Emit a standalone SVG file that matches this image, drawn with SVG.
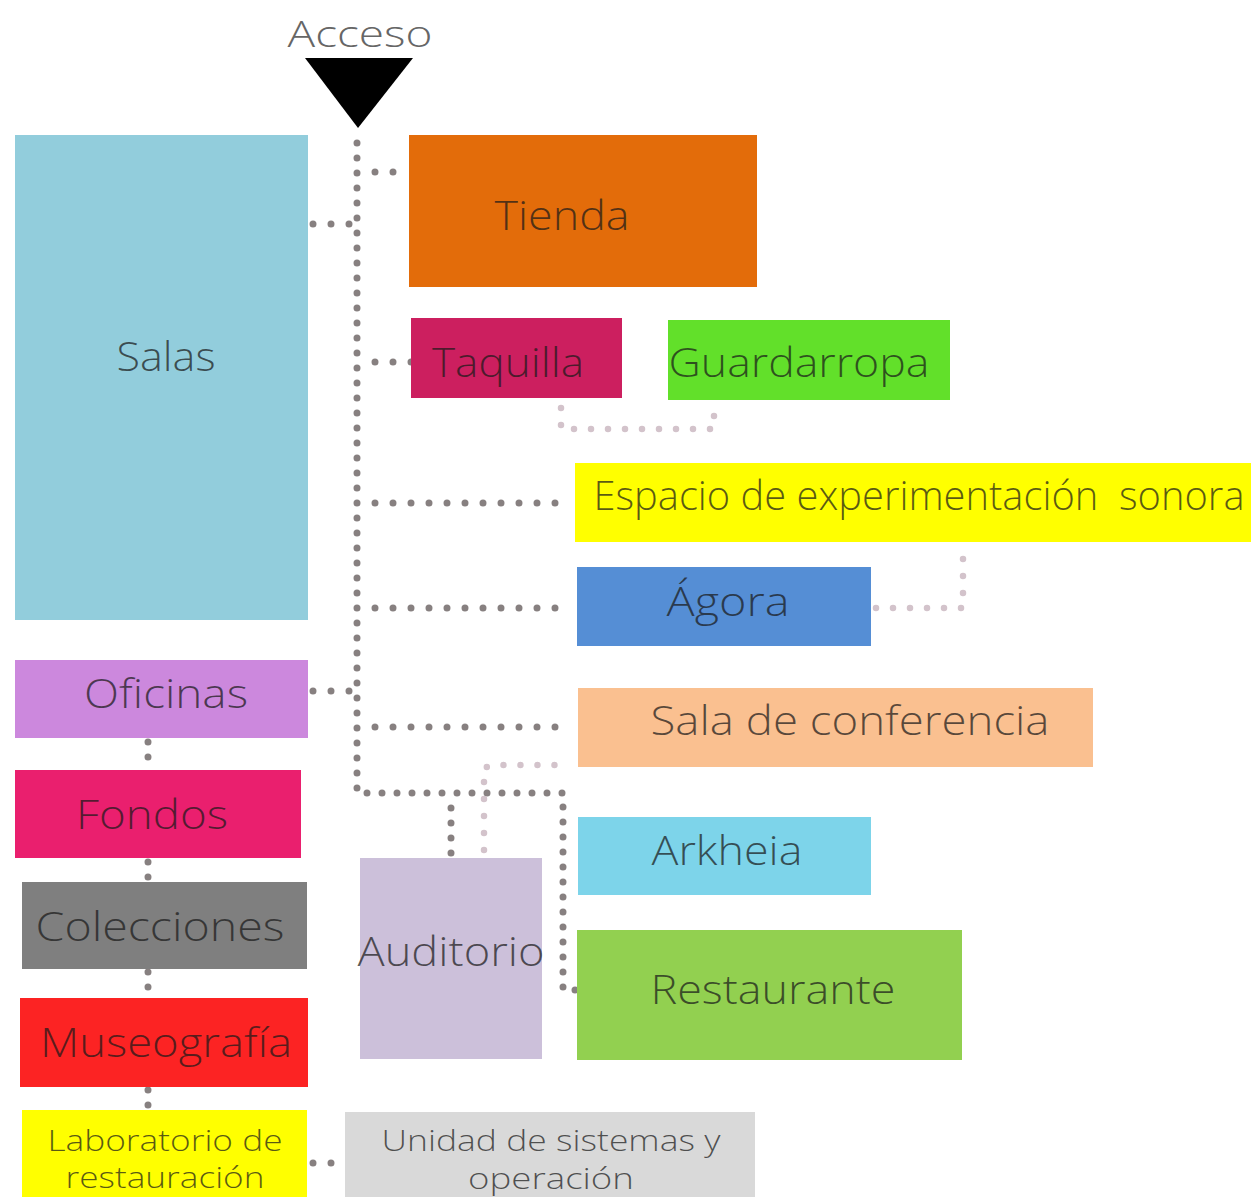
<svg xmlns="http://www.w3.org/2000/svg" width="1253" height="1197" viewBox="0 0 1253 1197">
<style>
.lbl{font-family:"Open Sans","Liberation Sans",sans-serif;font-weight:300;font-size:40px;fill:#1a1a1a;fill-opacity:0.72}
.sm{font-size:30px}
.d{fill:none;stroke:#878080;stroke-width:7;stroke-linecap:round;stroke-dasharray:0 15}
.dh{fill:none;stroke:#878080;stroke-width:7;stroke-linecap:round;stroke-dasharray:0 18}
.l{fill:none;stroke:#d3c3cb;stroke-width:6.5;stroke-linecap:round;stroke-dasharray:0 17}
</style>
<rect width="1253" height="1197" fill="#ffffff"/>
<g id="acceso">
<text x="360" y="47" text-anchor="middle" font-family="'Open Sans','Liberation Sans',sans-serif" font-weight="300" font-size="36" fill="#666" textLength="145" lengthAdjust="spacingAndGlyphs">Acceso</text>
<polygon points="305,58 413,58 358,128" fill="#000"/>
</g>
<g id="connectors">
<path class="d" d="M357 143 V793 H563 V990"/>
<path class="dh" d="M575 990 H563"/>
<path class="dh" d="M393 172 H357"/>
<path class="dh" d="M313 224 H357"/>
<path class="dh" d="M411 362 H357"/>
<path class="dh" d="M555 503 H357"/>
<path class="dh" d="M555 608 H357"/>
<path class="dh" d="M313 691 H357"/>
<path class="dh" d="M555 727 H357"/>
<path class="d" d="M451 853 V793"/>
<path class="l" d="M561 408 V429 H714 V408"/>
<path class="l" d="M876 608 H963 V548"/>
<path class="l" d="M484 850 V768 L492 765 H563"/>
<path class="d" d="M148 742 V768"/>
<path class="d" d="M148 862 V880"/>
<path class="d" d="M148 972 V996"/>
<path class="d" d="M148 1090 V1108"/>
<path class="dh" d="M313 1163 H343"/>
</g>
<g id="salas"><rect x="15" y="135" width="293" height="485" fill="#92cddc"/><text class="lbl" x="166" y="371" text-anchor="middle" textLength="99" lengthAdjust="spacingAndGlyphs">Salas</text></g>
<g id="tienda"><rect x="409" y="135" width="348" height="152" fill="#e36c0a"/><text class="lbl" x="562" y="230" text-anchor="middle" textLength="135" lengthAdjust="spacingAndGlyphs">Tienda</text></g>
<g id="taquilla"><rect x="411" y="318" width="211" height="80" fill="#cc1f5f"/><text class="lbl" x="508" y="377" text-anchor="middle" textLength="152" lengthAdjust="spacingAndGlyphs">Taquilla</text></g>
<g id="guardarropa"><rect x="668" y="320" width="282" height="80" fill="#62e02a"/><text class="lbl" x="799" y="377" text-anchor="middle" textLength="261" lengthAdjust="spacingAndGlyphs">Guardarropa</text></g>
<g id="espacio"><rect x="575" y="463" width="676" height="79" fill="#ffff00"/><text class="lbl" x="919" y="510" text-anchor="middle" textLength="651" lengthAdjust="spacingAndGlyphs" xml:space="preserve">Espacio de experimentación  sonora</text></g>
<g id="agora"><rect x="577" y="567" width="294" height="79" fill="#558ed5"/><text class="lbl" x="728" y="616" text-anchor="middle" textLength="123" lengthAdjust="spacingAndGlyphs">Ágora</text></g>
<g id="sala-conferencia"><rect x="578" y="688" width="515" height="79" fill="#fac090"/><text class="lbl" x="850" y="735" text-anchor="middle" textLength="399" lengthAdjust="spacingAndGlyphs">Sala de conferencia</text></g>
<g id="arkheia"><rect x="578" y="817" width="293" height="78" fill="#7dd4ea"/><text class="lbl" x="727" y="865" text-anchor="middle" textLength="151" lengthAdjust="spacingAndGlyphs">Arkheia</text></g>
<g id="restaurante"><rect x="577" y="930" width="385" height="130" fill="#92d050"/><text class="lbl" x="773" y="1004" text-anchor="middle" textLength="245" lengthAdjust="spacingAndGlyphs">Restaurante</text></g>
<g id="auditorio"><rect x="360" y="858" width="182" height="201" fill="#ccc0da"/><text class="lbl" x="451" y="966" text-anchor="middle" textLength="187" lengthAdjust="spacingAndGlyphs">Auditorio</text></g>
<g id="oficinas"><rect x="15" y="660" width="293" height="78" fill="#cc88dd"/><text class="lbl" x="166" y="708" text-anchor="middle" textLength="164" lengthAdjust="spacingAndGlyphs">Oficinas</text></g>
<g id="fondos"><rect x="15" y="770" width="286" height="88" fill="#ea1f6e"/><text class="lbl" x="152" y="829" text-anchor="middle" textLength="152" lengthAdjust="spacingAndGlyphs">Fondos</text></g>
<g id="colecciones"><rect x="22" y="882" width="285" height="87" fill="#7f7f7f"/><text class="lbl" x="160" y="941" text-anchor="middle" textLength="249" lengthAdjust="spacingAndGlyphs">Colecciones</text></g>
<g id="museografia"><rect x="20" y="998" width="288" height="89" fill="#fc2323"/><text class="lbl" x="166" y="1057" text-anchor="middle" textLength="252" lengthAdjust="spacingAndGlyphs">Museografía</text></g>
<g id="laboratorio"><rect x="22" y="1110" width="285" height="87" fill="#ffff00"/><text class="lbl sm" x="165" y="1151" text-anchor="middle" textLength="235" lengthAdjust="spacingAndGlyphs">Laboratorio de</text><text class="lbl sm" x="165" y="1188" text-anchor="middle" textLength="199" lengthAdjust="spacingAndGlyphs">restauración</text></g>
<g id="unidad"><rect x="345" y="1112" width="410" height="85" fill="#d9d9d9"/><text class="lbl sm" x="551" y="1151" text-anchor="middle" textLength="339" lengthAdjust="spacingAndGlyphs">Unidad de sistemas y</text><text class="lbl sm" x="551" y="1189" text-anchor="middle" textLength="166" lengthAdjust="spacingAndGlyphs">operación</text></g>
</svg>
